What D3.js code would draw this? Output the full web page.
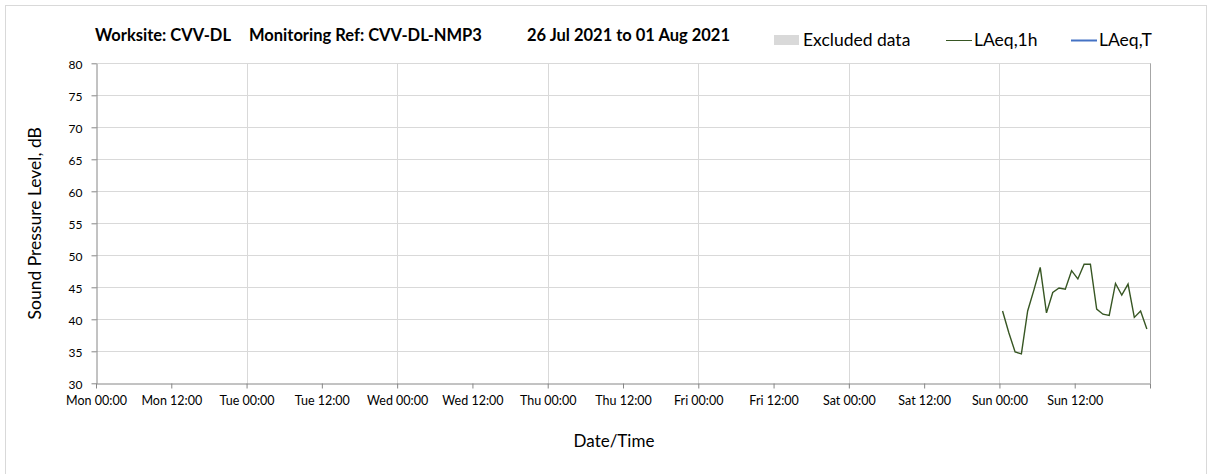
<!DOCTYPE html>
<html>
<head>
<meta charset="utf-8">
<script src="https://cdn.jsdelivr.net/npm/d3@7"></script>
<style>
	body { margin: 0; background: #fff; }
	svg text { font-family: "Lato", "Open Sans", sans-serif; fill: #000; }
</style>
</head>
<body>
<svg id="chart" width="1208" height="474"></svg>
<script>
// hours since Sun 00:00 for each hourly value (mid-hour)
var sunHours = [0.5, 1.5, 2.5, 3.5, 4.5, 5.5, 6.5, 7.5, 8.5, 9.5, 10.5, 11.5,
	12.5, 13.5, 14.5, 15.5, 16.5, 17.5, 18.5, 19.5, 20.5, 21.5, 22.5, 23.5];
var laeq1h = [41.3, 37.9, 34.9, 34.6, 41.3, 44.6, 48.1, 41.0, 44.2, 44.9, 44.7, 47.6,
	46.3, 48.6, 48.6, 41.6, 40.8, 40.6, 45.6, 43.8, 45.5, 40.3, 41.3, 38.5];
var dayNames = ["Mon", "Tue", "Wed", "Thu", "Fri", "Sat", "Sun"];
var yTicks = [30, 35, 40, 45, 50, 55, 60, 65, 70, 75, 80];

var svg = d3.select("#chart"),
	margin = {left: 96, right: 58, top: 63.3, bottom: 90.7},
	width = +svg.attr("width"),
	height = +svg.attr("height");

// outer frame
svg.append("rect")
	.attr("x", 5.5).attr("y", 5.5)
	.attr("width", 1201).attr("height", 480)
	.attr("fill", "none").attr("stroke", "#d9d9d9");

var x = d3.scaleLinear().domain([0, 168]).range([margin.left, width - margin.right]);
var y = d3.scaleLinear().domain([30, 80]).range([height - margin.bottom, margin.top]);

var xTicks = d3.range(0, 169, 12);
function xLabel(h) {
	if (h >= 168) return "";
	var d = dayNames[Math.floor(h / 24)];
	return d + (h % 24 === 0 ? " 00:00" : " 12:00");
}

var g = svg.append("g");

// grid
g.selectAll(".hgrid")
	.data(yTicks.slice(1))
	.enter().append("line")
	.attr("x1", x(0)).attr("x2", x(168))
	.attr("y1", function(d) { return Math.round(y(d)) + 0.5; })
	.attr("y2", function(d) { return Math.round(y(d)) + 0.5; })
	.attr("stroke", "#d9d9d9");

g.selectAll(".vgrid")
	.data(d3.range(24, 168, 24))
	.enter().append("line")
	.attr("y1", y(30)).attr("y2", y(80))
	.attr("x1", function(d) { return Math.round(x(d)) + 0.5; })
	.attr("x2", function(d) { return Math.round(x(d)) + 0.5; })
	.attr("stroke", "#d9d9d9");

// right border
g.append("line")
	.attr("x1", Math.round(x(168)) + 0.5).attr("x2", Math.round(x(168)) + 0.5)
	.attr("y1", y(30)).attr("y2", y(80))
	.attr("stroke", "#a6a6a6");

// axes
var xAxis = d3.axisBottom(x).tickValues(xTicks).tickFormat(xLabel).tickSize(5).tickSizeOuter(0);
var yAxis = d3.axisLeft(y).tickValues(yTicks).tickSize(5).tickSizeOuter(0);

var gx = svg.append("g")
	.attr("transform", "translate(0," + (Math.round(y(30)) + 0.5) + ")")
	.call(xAxis);
gx.selectAll("text").attr("y", 13).style("font-size", "12.5px");

var gy = svg.append("g")
	.attr("transform", "translate(" + (margin.left + 0.5) + ",0)")
	.call(yAxis);
gy.selectAll("text").attr("x", -14).attr("dy", "0.45em").style("font-size", "12px");

svg.selectAll(".domain, .tick line").attr("stroke", "#868686");

// series
var line = d3.line()
	.x(function(d, i) { return x(144 + sunHours[i]); })
	.y(function(d) { return y(d); });

svg.append("path")
	.datum(laeq1h)
	.attr("d", line)
	.attr("fill", "none")
	.attr("stroke", "#375623")
	.attr("stroke-width", 1.4);

// axis titles
svg.append("text")
	.attr("transform", "translate(41," + y(55) + ") rotate(-90)")
	.attr("text-anchor", "middle")
	.style("font-size", "17.5px")
	.text("Sound Pressure Level, dB");

svg.append("text")
	.attr("x", 614)
	.attr("y", 447)
	.attr("text-anchor", "middle")
	.style("font-size", "17px")
	.text("Date/Time");

// title
var titleParts = [
	{x: 95, t: "Worksite: CVV-DL"},
	{x: 249, t: "Monitoring Ref: CVV-DL-NMP3"},
	{x: 527, t: "26 Jul 2021 to 01 Aug 2021"}
];
svg.selectAll(".title")
	.data(titleParts)
	.enter().append("text")
	.attr("x", function(d) { return d.x; })
	.attr("y", 41)
	.style("font-size", "16.5px")
	.style("font-weight", "bold")
	.text(function(d) { return d.t; });

// legend
var leg = svg.append("g");
leg.append("rect")
	.attr("x", 774).attr("y", 35).attr("width", 25).attr("height", 10)
	.attr("fill", "#d9d9d9");
leg.append("text").attr("x", 803).attr("y", 46).style("font-size", "17.5px").text("Excluded data");
leg.append("line")
	.attr("x1", 946).attr("x2", 972).attr("y1", 40.5).attr("y2", 40.5)
	.attr("stroke", "#375623").attr("stroke-width", 1);
leg.append("text").attr("x", 974).attr("y", 46).style("font-size", "17.5px").text("LAeq,1h");
leg.append("line")
	.attr("x1", 1071).attr("x2", 1097).attr("y1", 40.5).attr("y2", 40.5)
	.attr("stroke", "#4472c4").attr("stroke-width", 2);
leg.append("text").attr("x", 1099).attr("y", 46).style("font-size", "17.5px").text("LAeq,T");
</script>
</body>
</html>
